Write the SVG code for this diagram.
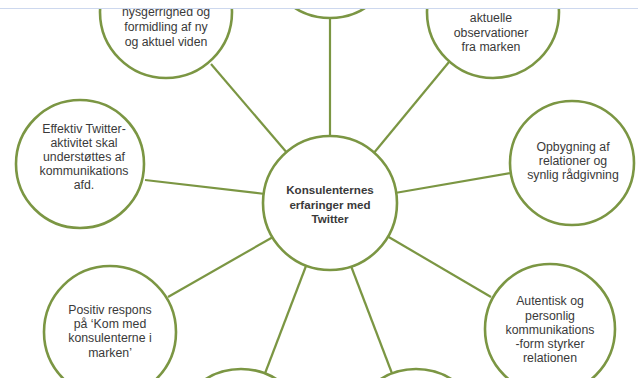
<svg xmlns="http://www.w3.org/2000/svg" width="638" height="378" viewBox="0 0 638 378">
<style>
.node circle{fill:#ffffff;stroke:#7b9643;stroke-width:2.6}
.edge line{stroke:#7b9643;stroke-width:2.2}
text{font-family:"Liberation Sans",Arial,sans-serif;font-size:12.3px;fill:#3a3a3a;text-anchor:middle}
.b{font-weight:bold;font-size:11.6px}
</style>
<rect width="638" height="378" fill="#ffffff"/>
<g id="connectors" class="edge">
<line x1="330" y1="17" x2="330" y2="138"/>
<line x1="211" y1="64" x2="288" y2="154"/>
<line x1="449" y1="62" x2="373" y2="154"/>
<line x1="511" y1="173" x2="395" y2="193"/>
<line x1="145" y1="180" x2="265" y2="194"/>
<line x1="168" y1="297" x2="273" y2="237"/>
<line x1="491" y1="297" x2="387" y2="236"/>
<line x1="306" y1="266" x2="264" y2="376"/>
<line x1="351" y1="266" x2="393" y2="376"/>
</g>
<g id="node-center" class="node">
<circle cx="330" cy="203" r="67"/>
<text class="b" x="330" y="194">Konsulenternes</text>
<text class="b" x="330" y="209">erfaringer med</text>
<text class="b" x="330" y="223">Twitter</text>
</g>
<g id="node-top" class="node">
<circle cx="330" cy="-48" r="66"/>
</g>
<g id="node-topleft" class="node">
<circle cx="166" cy="12" r="66"/>
<text x="166" y="16">nysgerrighed og</text>
<text x="166" y="31">formidling af ny</text>
<text x="166" y="46">og aktuel viden</text>
</g>
<g id="node-topright" class="node">
<circle cx="493" cy="12" r="66"/>
<text x="491" y="22">aktuelle</text>
<text x="491" y="37">observationer</text>
<text x="491" y="51">fra marken</text>
</g>
<g id="node-left" class="node">
<circle cx="80" cy="164" r="64"/>
<text x="84" y="133">Effektiv Twitter-</text>
<text x="84" y="147">aktivitet skal</text>
<text x="84" y="161">understøttes af</text>
<text x="84" y="175">kommunikations</text>
<text x="84" y="189">afd.</text>
</g>
<g id="node-right" class="node">
<circle cx="572" cy="163" r="62"/>
<text x="573" y="151">Opbygning af</text>
<text x="573" y="165">relationer og</text>
<text x="573" y="179">synlig rådgivning</text>
</g>
<g id="node-bottomleft" class="node">
<circle cx="110" cy="332" r="66"/>
<text x="110" y="314">Positiv respons</text>
<text x="110" y="328">på ‘Kom med</text>
<text x="110" y="342">konsulenterne i</text>
<text x="110" y="357">marken’</text>
</g>
<g id="node-bottomright" class="node">
<circle cx="550" cy="329" r="65"/>
<text x="550" y="305">Autentisk og</text>
<text x="550" y="320">personlig</text>
<text x="550" y="334">kommunikations</text>
<text x="550" y="348">-form styrker</text>
<text x="550" y="362">relationen</text>
</g>
<g id="node-bottom1" class="node">
<circle cx="241" cy="435" r="66"/>
</g>
<g id="node-bottom2" class="node">
<circle cx="416" cy="435" r="66"/>
</g>
<rect x="0" y="0" width="638" height="8" fill="#ffffff"/>
<line x1="0" y1="8.5" x2="638" y2="8.5" stroke="#cdd8ee" stroke-width="1"/>
</svg>
